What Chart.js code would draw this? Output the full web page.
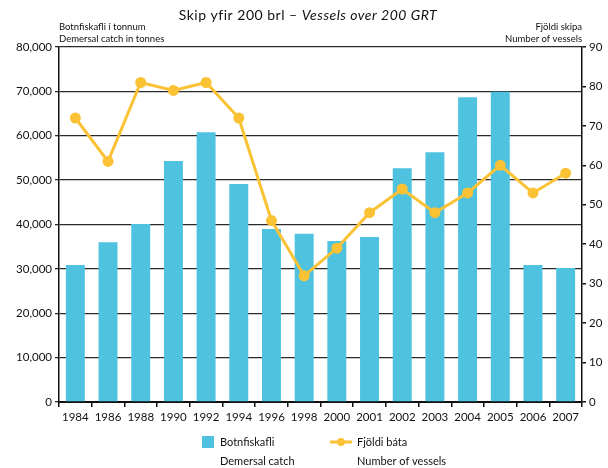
<!DOCTYPE html>
<html>
<head>
<meta charset="utf-8">
<script src="https://cdn.jsdelivr.net/npm/chart.js@4"></script>
<style>
  body { margin: 0; background: #fff; }
  #wrap { width: 608px; height: 468px; }
</style>
</head>
<body>
<div id="wrap"><canvas id="grafico" width="608" height="468"></canvas></div>
<script>
const ar = ['1984', '1986', '1988', '1990', '1992', '1994', '1996', '1998',
            '2000', '2001', '2002', '2003', '2004', '2005', '2006', '2007'];
const botnfiskafli = [30900, 36000, 40100, 54300, 60800, 49100, 39000, 37900,
                      36300, 37200, 52700, 56300, 68700, 69900, 30900, 30200];
const fjoldiBata = [72, 61, 81, 79, 81, 72, 46, 32, 39, 48, 54, 48, 53, 60, 53, 58];

const titillA = 'Skip yfir 200 brl – ';
const titillB = 'Vessels over 200 GRT';
const asVinstri = ['Botnfiskafli í tonnum', 'Demersal catch in tonnes'];
const asHaegri = ['Fjöldi skipa', 'Number of vessels'];
const skyringStolpar = ['Botnfiskafli', 'Demersal catch'];
const skyringLina = ['Fjöldi báta', 'Number of vessels'];

const blar = '#4fc2e0';
const gulur = '#fbc235';
const letur = 'Lato, "Open Sans", sans-serif';

// titill, ásaheiti og skýringar teiknuð beint á strigann
const textar = {
  id: 'textar',
  afterDraw(chart) {
    const ctx = chart.ctx;
    const ca = chart.chartArea;
    ctx.save();
    ctx.fillStyle = '#111';
    ctx.textBaseline = 'middle';

    // smá stafabil í titli, án límingar á "fi"
    ctx.letterSpacing = '0.5px';
    ctx.font = '14px ' + letur;
    const wA = ctx.measureText(titillA).width;
    ctx.font = 'italic 14px ' + letur;
    const wB = ctx.measureText(titillB).width;
    let x = 308 - (wA + wB) / 2;
    ctx.font = '14px ' + letur;
    ctx.textAlign = 'left';
    ctx.fillText(titillA, x, 15);
    ctx.font = 'italic 14px ' + letur;
    ctx.fillText(titillB, x + wA, 15);
    ctx.letterSpacing = '0px';

    ctx.font = '9.5px ' + letur;
    ctx.textAlign = 'left';
    ctx.fillText(asVinstri[0], ca.left, 27);
    ctx.fillText(asVinstri[1], ca.left, 39);
    ctx.textAlign = 'right';
    ctx.fillText(asHaegri[0], ca.right, 27);
    ctx.fillText(asHaegri[1], ca.right, 39);

    // skýringar
    ctx.font = '11px ' + letur;
    ctx.textAlign = 'left';
    ctx.fillStyle = blar;
    ctx.fillRect(202, 436, 12, 12);
    ctx.fillStyle = '#111';
    ctx.fillText(skyringStolpar[0], 220, 442);
    ctx.fillText(skyringStolpar[1], 220, 461);

    ctx.strokeStyle = gulur;
    ctx.lineWidth = 3;
    ctx.beginPath();
    ctx.moveTo(330, 442);
    ctx.lineTo(352, 442);
    ctx.stroke();
    ctx.fillStyle = gulur;
    ctx.beginPath();
    ctx.arc(341, 442, 4, 0, Math.PI * 2);
    ctx.fill();
    ctx.fillStyle = '#111';
    ctx.fillText(skyringLina[0], 357, 442);
    ctx.fillText(skyringLina[1], 357, 461);
    ctx.restore();
  }
};

new Chart(document.getElementById('grafico'), {
  type: 'bar',
  data: {
    labels: ar,
    datasets: [{
      label: 'Fjöldi báta',
      type: 'line',
      data: fjoldiBata,
      yAxisID: 'y1',
      borderColor: gulur,
      backgroundColor: gulur,
      pointBackgroundColor: gulur,
      pointBorderColor: gulur,
      borderWidth: 3,
      pointRadius: 4,
      tension: 0,
      order: 1
    }, {
      label: 'Botnfiskafli',
      data: botnfiskafli,
      yAxisID: 'y',
      backgroundColor: blar,
      barPercentage: 0.58,
      categoryPercentage: 1,
      order: 2
    }]
  },
  options: {
    responsive: false,
    animation: false,
    layout: { padding: { top: 47, left: 0, right: 0, bottom: 0 } },
    plugins: {
      legend: { display: false },
      tooltip: { enabled: false }
    },
    scales: {
      x: {
        offset: true,
        grid: { offset: true, drawOnChartArea: false, color: '#111', tickLength: 5, lineWidth: 1.5 },
        border: { color: '#111', width: 2 },
        ticks: { color: '#111', font: { family: letur, size: 11.5 }, padding: 3, maxRotation: 0, autoSkip: false },
        afterFit(s) { s.height = 66; }
      },
      y: {
        position: 'left',
        min: 0,
        max: 80000,
        ticks: {
          stepSize: 10000,
          color: '#111',
          font: { family: letur, size: 11.5 },
          padding: 3,
          callback: v => v.toLocaleString('en-US')
        },
        grid: { color: '#2a2a2a', lineWidth: 1.3, tickLength: 4 },
        border: { color: '#111', width: 1.5 },
        afterFit(s) { s.width = 59; }
      },
      y1: {
        position: 'right',
        min: 0,
        max: 90,
        ticks: { stepSize: 10, color: '#111', font: { family: letur, size: 11.5 }, padding: 3 },
        grid: { drawOnChartArea: false, color: '#111', tickLength: 4, lineWidth: 1.5 },
        border: { color: '#111', width: 1.5 },
        afterFit(s) { s.width = 26; }
      }
    }
  },
  plugins: [textar]
});
</script>
</body>
</html>
